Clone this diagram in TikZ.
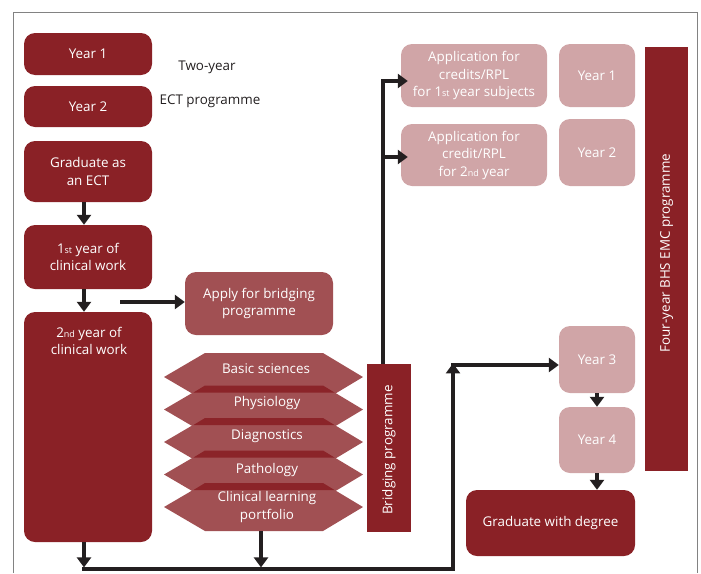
\documentclass[tikz,border=0pt]{standalone}
\usepackage{fontspec}
\setmainfont{Open Sans}
\usetikzlibrary{arrows.meta}
\definecolor{dred}{RGB}{138,33,38}
\definecolor{mred}{RGB}{161,80,83}
\definecolor{pinkc}{RGB}{208,165,167}
\definecolor{bandc}{RGB}{139,36,41}
\definecolor{arrc}{RGB}{35,31,32}
\definecolor{framec}{RGB}{130,130,130}
\newcommand{\smallsup}[1]{{\fontsize{9}{9}\selectfont #1}}
\begin{document}
\begin{tikzpicture}[x=1pt,y=-1pt,
  font=\fontsize{13.4}{17.5}\selectfont,
  basebox/.style={rounded corners=11pt, inner sep=0pt, align=center, text=white},
  dbox/.style={basebox, fill=dred},
  mbox/.style={basebox, fill=mred},
  pbox/.style={basebox, fill=pinkc},
  bar/.style={fill=dred, inner sep=0pt, text=white},
  ln/.style={draw=arrc, line width=3.2pt},
  arr/.style={ln, -{Triangle[width=14pt,length=10pt]}},
  plain/.style={text=arrc, inner sep=0pt}]
\useasboundingbox (0,0) rectangle (701,573);
% frame
\draw[framec, line width=1pt] (13,573) -- (13,12) -- (697,12) -- (697,573);

% left column
\node[dbox, minimum width=128pt, minimum height=42pt] (y1L) at (88,54) {Year 1};
\node[dbox, minimum width=128pt, minimum height=41pt] (y2L) at (88,106.5) {Year 2};
\node[plain] (tw1) at (207,67) {Two-year};
\node[plain] (tw2) at (210,101) {ECT programme};
\node[dbox, minimum width=128pt, minimum height=61pt] (grad) at (88,171.5) {Graduate as\\an ECT};
\node[dbox, minimum width=128pt, minimum height=64pt] (cw1) at (88,257) {1\smallsup{st} year of\\clinical work};
\node[dbox, minimum width=128pt, minimum height=230pt] (cw2) at (88,427) {};
\node[text=white, align=center, inner sep=0pt] (cw2t) at (89,341) {2\smallsup{nd} year of\\clinical work};

% apply for bridging
\node[mbox, minimum width=148pt, minimum height=63pt] (apply) at (259,303.5) {Apply for bridging\\programme};

% hexagons
\foreach \t in {353,385.5,418,450.5,483}
  \fill[mred] (164,\t+24) -- (205,\t) -- (323,\t) -- (363,\t+24) -- (323,\t+48) -- (205,\t+48) -- cycle;
\foreach \t in {385.5,418,450.5,483}
  \fill[bandc] (205,\t) -- (323,\t) -- (334.5,\t+7) -- (193.5,\t+7) -- cycle;
\node[text=white, inner sep=0pt] (hex1) at (266,369) {Basic sciences};
\node[text=white, inner sep=0pt] (hex2) at (267,403) {Physiology};
\node[text=white, inner sep=0pt] (hex3) at (267,436) {Diagnostics};
\node[text=white, inner sep=0pt] (hex4) at (267,470) {Pathology};
\node[text=white, align=center, inner sep=0pt] (hex5) at (267,507) {Clinical learning\\portfolio};
\coordinate (hexB) at (261,531);

% bridging bar
\node[bar, minimum width=44pt, minimum height=168pt] (bb) at (389,448) {};
\node[text=white, rotate=90, inner sep=0pt] (bbt) at (389,450) {Bridging programme};

% application boxes
\node[pbox, minimum width=146pt, minimum height=63pt] (app1) at (474,75.5) {Application for\\credits/RPL\\for 1\smallsup{st} year subjects};
\node[pbox, minimum width=146pt, minimum height=62pt] (app2) at (474,155) {Application for\\credit/RPL\\for 2\smallsup{nd} year};

% right years
\node[pbox, minimum width=76pt, minimum height=63pt] (ry1) at (597,75.5) {Year 1};
\node[pbox, minimum width=76pt, minimum height=67pt] (ry2) at (597,152.5) {Year 2};
\node[pbox, minimum width=76pt, minimum height=67pt] (ry3) at (597,359.5) {Year 3};
\node[pbox, minimum width=76pt, minimum height=66pt] (ry4) at (597,440) {Year 4};
\node[dbox, minimum width=169pt, minimum height=66pt] (gdeg) at (550.5,523) {Graduate with degree};

% four-year bar
\node[bar, minimum width=43pt, minimum height=424pt] (fb) at (666.5,259) {};
\node[text=white, rotate=90, inner sep=0pt] (fbt) at (666.5,253) {Four-year BHS EMC programme};

% connectors
\coordinate (xL) at (84,0);
\draw[arr] (xL |- grad.south) -- (xL |- cw1.north);
\draw[arr] (xL |- cw1.south) -- (xL |- cw2.north);
\coordinate (aS) at (120,302);
\draw[arr] (aS) -- (aS -| apply.west);

\coordinate (jL) at (84,569);
\coordinate (jM) at (261,569);
\coordinate (jR) at (453,569);
\coordinate (jC) at (453,365);
\draw[arr] (jL |- cw2.south) -- ([yshift=1.6pt]jL);
\draw[arr] (hexB) -- ([yshift=1.6pt]jM);
\draw[ln, -{Triangle[width=14pt,length=10pt]}] ([xshift=-1.6pt]jL) -- (jR) -- ([yshift=1.6pt]jC);
\draw[arr] ([xshift=-1.6pt]jC) -- (jC -| ry3.west);

\coordinate (bx) at (383,81);
\coordinate (bx2) at (383,157);
\draw[ln] (bx |- bb.north) -- ([yshift=1.6pt]bx);
\draw[arr] ([xshift=-1.6pt]bx) -- ([xshift=7pt]bx -| app1.west);
\draw[arr] (bx2) -- ([xshift=7pt]bx2 -| app2.west);

\draw[arr] (ry3.south) -- (ry4.north);
\draw[arr] (ry4.south) -- (gdeg.north -| ry4.south);
\end{tikzpicture}
\end{document}
